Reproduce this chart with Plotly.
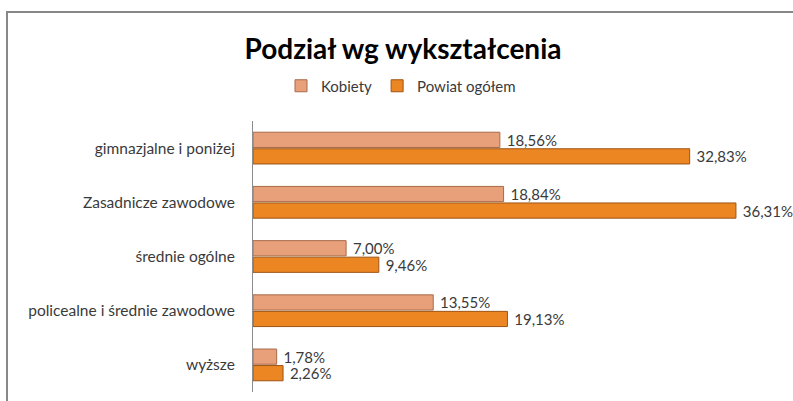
import plotly.graph_objects as go

categories = ["gimnazjalne i poniżej", "Zasadnicze zawodowe", "średnie ogólne",
              "policealne i średnie zawodowe", "wyższe"]
kobiety = [18.56, 18.84, 7.00, 13.55, 1.78]
powiat = [32.83, 36.31, 9.46, 19.13, 2.26]
series_names = ["Kobiety", "Powiat ogółem"]

W, H = 793, 401
L, R, T, B = 253, 0, 121, 9
pw, ph = W - L - R, H - T - B

def px_x(x):
    return (x - L) / pw

def px_y(y):
    return 1 - (y - T) / ph

font_family = "Lato, 'Open Sans', sans-serif"
txt_col = "#3a3a3a"

fig = go.Figure()
fig.add_trace(go.Bar(
    y=categories, x=kobiety, name=series_names[0], orientation="h",
    marker=dict(color="#E8A07A", line=dict(color="#A86A4A", width=1)),
    texttemplate=" %{x:.2f}%", textposition="outside", cliponaxis=False,
    constraintext="none",
    textfont=dict(size=15, color=txt_col, family=font_family),
))
fig.add_trace(go.Bar(
    y=categories, x=powiat, name=series_names[1], orientation="h",
    marker=dict(color="#EC8622", line=dict(color="#9E5414", width=1)),
    texttemplate=" %{x:.2f}%", textposition="outside", cliponaxis=False,
    constraintext="none",
    textfont=dict(size=15, color=txt_col, family=font_family),
))

frame = dict(color="#888888", width=2)
fig.update_layout(
    width=W, height=H,
    margin=dict(l=L, r=R, t=T, b=B, autoexpand=False),
    paper_bgcolor="white", plot_bgcolor="white",
    separators=", ",
    barmode="group", bargap=0.39, bargroupgap=0.08,
    font=dict(family=font_family, color=txt_col),
    title=dict(text="Podział wg wykształcenia", x=403 / W, xanchor="center",
               y=1 - 49 / H, yanchor="middle",
               font=dict(size=28, color="black", family=font_family, weight="bold")),
    legend=dict(orientation="h", x=px_x(281), xanchor="left",
                y=px_y(86), yanchor="middle", font=dict(size=15, color=txt_col),
                traceorder="normal", itemwidth=30),
    showlegend=True,
    xaxis=dict(range=[0, 40.6], showgrid=False, zeroline=False, showticklabels=False,
               showline=False, ticks=""),
    yaxis=dict(autorange="reversed", showgrid=False, showline=True, linecolor="#8c8c8c",
               linewidth=1, ticks="", ticklabelstandoff=14,
               tickfont=dict(size=15.5, color=txt_col)),
    shapes=[
        dict(type="line", xref="paper", yref="paper",
             x0=px_x(7), x1=px_x(7), y0=px_y(H), y1=px_y(12), line=frame),
        dict(type="line", xref="paper", yref="paper",
             x0=px_x(6), x1=px_x(W), y0=px_y(12), y1=px_y(12), line=frame),
    ],
)

fig.write_html("out.html", config={"displayModeBar": False},
               post_script="document.body.style.margin='0';document.body.style.overflow='hidden';")
